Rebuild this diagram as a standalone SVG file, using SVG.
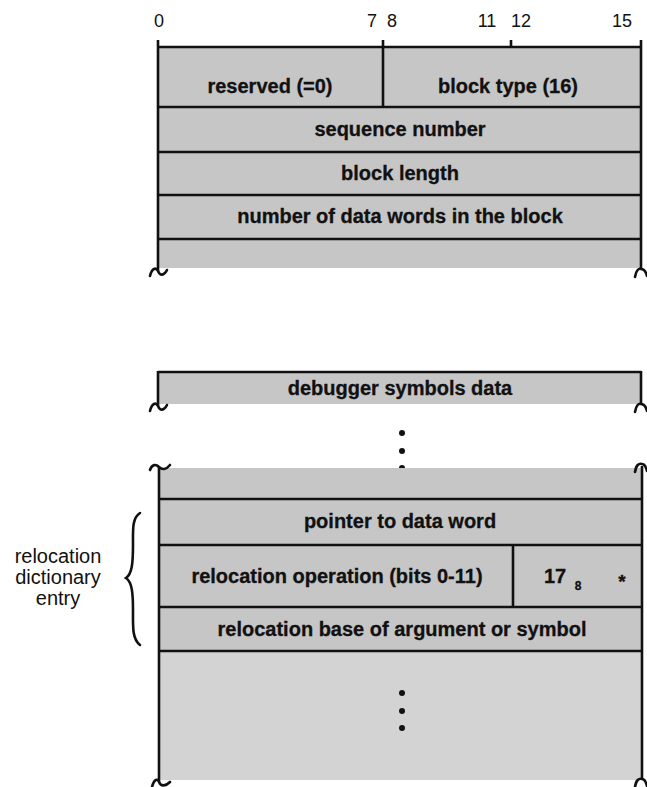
<svg xmlns="http://www.w3.org/2000/svg" width="647" height="787" viewBox="0 0 647 787">
<style>
.bg{fill:#ffffff}
.fill{fill:#c6c6c6}
.fill2{fill:#d3d3d3}
.ln{stroke:#111;stroke-width:2.6;fill:none;stroke-linecap:butt}
.sq{stroke:#111;stroke-width:2.6;fill:none;stroke-linecap:round}
.t{font-family:"Liberation Sans",Arial,Helvetica,sans-serif;font-weight:bold;font-size:20px;text-anchor:middle;fill:#111;stroke:#111;stroke-width:0.3}
.n{font-family:"Liberation Sans",Arial,Helvetica,sans-serif;font-size:18px;text-anchor:middle;fill:#111}
.lab{font-family:"Liberation Sans",Arial,Helvetica,sans-serif;font-size:20px;text-anchor:middle;fill:#111}
.dot{fill:#111}
</style>
<rect class="bg" x="0" y="0" width="647" height="787"/>

<g id="bit-numbers">
<text class="n" x="159" y="27">0</text>
<text class="n" x="372" y="27">7</text>
<text class="n" x="392" y="27">8</text>
<text class="n" x="487" y="27">11</text>
<text class="n" x="521" y="27">12</text>
<text class="n" x="622" y="27">15</text>
</g>

<g id="header-block">
<rect class="fill" x="158" y="47" width="483" height="221"/>
<path class="ln" d="M158,47H641M158,107H641M158,152H641M158,195H641M158,239H641"/>
<path class="ln" d="M158,40V271M641,40V270M383,40V107M511,40V47"/>
<path class="sq" d="M150,276C152,268 156,267 158,271C160,276 164,276 167,270"/>
<path class="sq" d="M635,277C636,270 639,268 641,269C644,269 646,272 647,276"/>
</g>

<g id="field-reserved"><text class="t" x="270" y="93">reserved (=0)</text></g>
<g id="field-block-type"><text class="t" x="508" y="93">block type (16)</text></g>
<g id="field-sequence-number"><text class="t" x="400" y="136">sequence number</text></g>
<g id="field-block-length"><text class="t" x="400" y="180">block length</text></g>
<g id="field-data-words"><text class="t" x="400" y="223">number of data words in the block</text></g>

<g id="debugger-block">
<rect class="fill" x="158" y="372" width="483" height="32"/>
<path class="ln" d="M158,372H641M158,371V406M641,371V405"/>
<path class="sq" d="M150,411C152,403 156,402 158,406C160,411 164,411 167,405"/>
<path class="sq" d="M635,412C636,405 639,403 641,404C644,404 646,407 647,411"/>
<text class="t" x="400" y="395">debugger symbols data</text>
</g>

<g id="ellipsis-1">
<circle class="dot" cx="402" cy="433" r="3"/>
<circle class="dot" cx="402" cy="451" r="3"/>
<circle class="dot" cx="402" cy="468" r="3"/>
</g>

<g id="relocation-block">
<rect class="fill" x="158" y="468" width="483" height="183"/>
<rect class="fill2" x="158" y="651" width="483" height="129"/>
<path class="ln" d="M158,499H641M158,545H641M158,607H641M158,651H641M513,545V607"/>
<path class="ln" d="M159,467V782M642,466V780"/>
<path class="sq" d="M150,470C152,464 156,464 159,467C162,470 166,470 170,465"/>
<path class="sq" d="M635,472C636,465 639,463 642,464C645,464 646,467 647,471"/>
<path class="sq" d="M152,787C154,779 158,778 159,782C161,787 166,786 170,782"/>
<path class="sq" d="M635,787C636,780 639,778 642,779C645,779 646,782 647,786"/>
</g>

<g id="field-pointer"><text class="t" x="400" y="528">pointer to data word</text></g>
<g id="field-relocation-operation"><text class="t" x="337" y="583">relocation operation (bits 0-11)</text></g>
<g id="field-code">
<text class="t" x="555" y="583">17</text>
<text class="t" x="578" y="590" style="font-size:12px">8</text>
<text class="t" x="622" y="588" style="font-size:19px">*</text>
</g>
<g id="field-relocation-base"><text class="t" x="402" y="636">relocation base of argument or symbol</text></g>

<g id="ellipsis-2">
<circle class="dot" cx="402" cy="693" r="3"/>
<circle class="dot" cx="402" cy="711" r="3"/>
<circle class="dot" cx="402" cy="728" r="3"/>
</g>

<g id="connectors">
<path class="sq" d="M140,513C132,518 133,530 133,545C133,563 132,574 126,578C132,582 133,593 133,610C133,626 132,639 140,645"/>
</g>

<g id="label-relocation-entry">
<text class="lab" x="58" y="563">relocation</text>
<text class="lab" x="58" y="584">dictionary</text>
<text class="lab" x="58" y="605">entry</text>
</g>
</svg>
